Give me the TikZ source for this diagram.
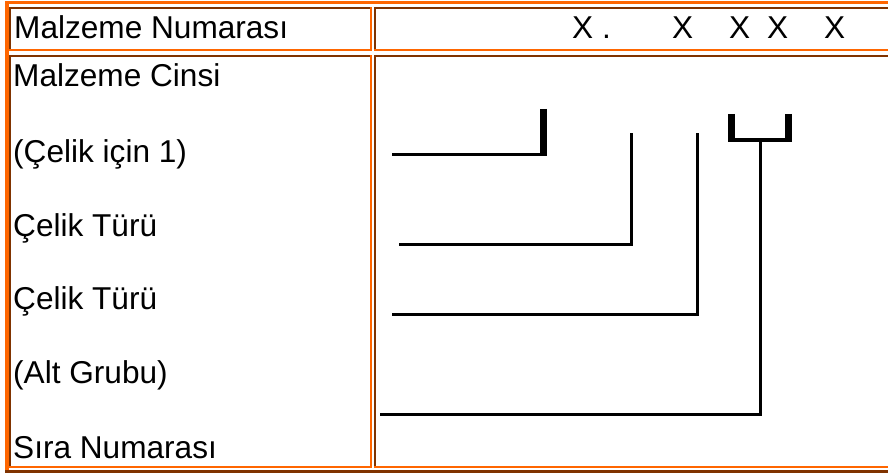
\documentclass[tikz,border=0pt]{standalone}
\usepackage{fontspec}
\setmainfont{Liberation Sans}
\definecolor{borange}{HTML}{FF6600}
\definecolor{bbrown}{HTML}{803300}
\newcommand{\tblcell}[4]{%
  \fill[bbrown] (#1,#2) rectangle (#3,#2+2);
  \fill[bbrown] (#1,#2) rectangle (#1+2,#4);
  \fill[borange] (#1,#4-2) rectangle (#3,#4);
  \fill[borange] (#3-2,#2) rectangle (#3,#4);}
\begin{document}
\begin{tikzpicture}[x=1pt,y=-1pt,
  lbl/.style={anchor=base west,inner sep=0pt,font=\fontsize{31.6}{36}\selectfont},
  thin/.style={line width=3pt,black},
  thick/.style={line width=7pt,black}]
\useasboundingbox (0,0) rectangle (888,473);
% outer table border (outset)
\fill[borange] (5,1) rectangle (888,4);
\fill[borange] (5,1) rectangle (9,470);
\fill[bbrown] (5,470) rectangle (888,473);
% cells (inset)
\tblcell{9}{7}{372}{51}
\tblcell{374}{7}{892}{51}
\tblcell{9}{55}{372}{468}
\tblcell{374}{55}{892}{468}
% texts
\node[lbl] (t0) at (14,39) {Malzeme Numarası};
\node[lbl] (x1) at (572,39) {X .};
\node[lbl] (x2) at (672,39) {X};
\node[lbl] (x3) at (729,39) {X};
\node[lbl] (x4) at (767,39) {X};
\node[lbl] (x5) at (824,39) {X};
\node[lbl] (t1) at (13,87) {Malzeme Cinsi};
\node[lbl] (t2) at (13,163) {(Çelik için 1)};
\node[lbl] (t3) at (13,236) {Çelik Türü};
\node[lbl] (t4) at (13,309) {Çelik Türü};
\node[lbl] (t5) at (13,383) {(Alt Grubu)};
\node[lbl] (t6) at (13,458) {Sıra Numarası};
% lines
\coordinate (a1) at (392,155); \coordinate (a2) at (543.5,155); \coordinate (a3) at (543.5,109);
\draw[thin] (a1) -- (547,155);
\draw[thick] (a3) -- (543.5,156.5);
\coordinate (b1) at (399,244); \coordinate (b2) at (631,244); \coordinate (b3) at (631,133);
\draw[thin,line join=miter] (b1) -- (b2) -- (b3);
\coordinate (c1) at (392,314); \coordinate (c2) at (697,314); \coordinate (c3) at (697,133);
\draw[thin,line join=miter] (c1) -- (c2) -- (c3);
% bracket
\draw[thick] (731.5,114) -- (731.5,142);
\draw[thick] (788,114) -- (788,142);
\draw[line width=4pt] (728,140) -- (791.5,140);
\coordinate (d1) at (380,414); \coordinate (d2) at (760,414); \coordinate (d3) at (760,140);
\draw[thin,line join=miter] (d1) -- (d2) -- (d3);
\end{tikzpicture}
\end{document}
